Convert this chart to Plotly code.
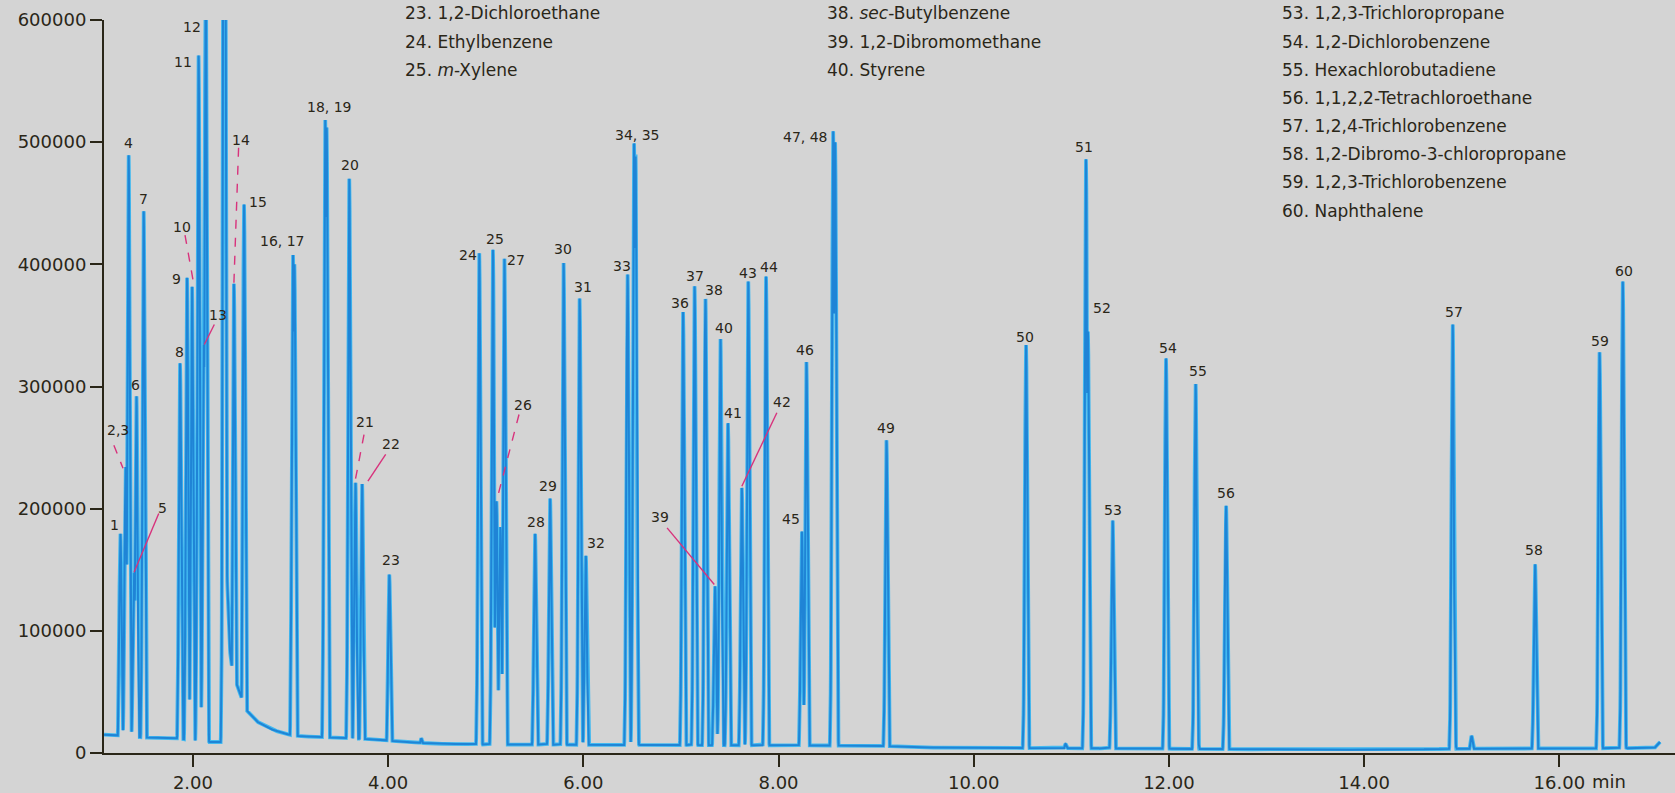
import numpy as np
import plotly.graph_objects as go

# ---- peak table: retention time (min) and apex intensity (counts) ----
peak_rt = [1.257, 1.311, 1.341, 1.397, 1.421, 1.495,
           1.868, 1.940, 1.991, 2.058, 2.112, 2.131, 2.322,
           2.420, 2.524, 3.025, 3.040, 3.355, 3.370, 3.602, 3.665, 3.733,
           4.012, 4.340, 4.934, 5.074, 5.110, 5.150, 5.191,
           5.505, 5.659, 5.798, 5.962, 6.025,
           6.453, 6.520, 6.535, 7.022, 7.140, 7.251, 7.349, 7.405, 7.482,
           7.624, 7.690, 7.872, 8.239, 8.286, 8.560, 8.580, 9.106,
           10.536, 10.940, 11.150, 11.170, 11.423, 11.970, 12.273, 12.585,
           14.907, 15.100, 15.751, 16.412, 16.650]
peak_height = [180000, 235000, 491000, 148000, 293000, 445000,
               319000, 389000, 383000, 571000, 334000, 650000, 1200000,
               384000, 449000, 409000, 400000, 520000, 512000, 470000, 222000, 221000,
               146000, 12000, 409000, 412000, 206000, 185000, 406000,
               180000, 209000, 401000, 372000, 162000,
               393000, 499000, 490000, 361000, 382000, 373000, 137000, 340000, 270000,
               217000, 386000, 390000, 182000, 320000, 509000, 500000, 256000,
               334000, 7500, 486000, 345000, 191000, 323000, 303000, 203000,
               352000, 14000, 155000, 328000, 386000]

# ---- baseline knots (min, counts), including the solvent tail ----
base_rt = [1.09, 1.22, 1.30, 1.50, 1.85, 2.10, 2.325, 2.345, 2.37, 2.40,
           2.45, 2.50, 2.55, 2.65, 2.80, 2.95, 3.10, 3.50, 3.90, 4.10,
           4.50, 5.00, 7.00, 9.00, 9.50, 12.00, 14.00, 15.00, 16.80,
           16.98, 17.03]
base_level = [15000, 14500, 14000, 12700, 12000, 9000, 9000, 160000, 90000, 70000,
              56000, 45000, 35000, 26000, 19500, 15500, 13700, 12500, 11000, 9500,
              7500, 7000, 6500, 6000, 4500, 3500, 2500, 3500, 4000,
              4500, 9000]

# ---- peak number labels ----
label_text = ["1", "2,3", "4", "5", "6", "7", "8", "9", "10", "11", "12", "13",
              "14", "15", "16, 17", "18, 19", "20", "21", "22", "23", "24", "25",
              "26", "27", "28", "29", "30", "31", "32", "33", "34, 35", "36", "37",
              "38", "39", "40", "41", "42", "43", "44", "45", "46", "47, 48", "49",
              "50", "51", "52", "53", "54", "55", "56", "57", "58", "59", "60"]
label_rt = [1.192, 1.232, 1.341, 1.689, 1.414, 1.495, 1.864, 1.835, 1.888, 1.898,
            1.989, 2.256, 2.493, 2.666, 2.913, 3.398, 3.610, 3.763, 4.030, 4.030,
            4.818, 5.091, 5.384, 5.310, 5.512, 5.640, 5.794, 5.996, 6.127, 6.398,
            6.555, 6.987, 7.140, 7.342, 6.786, 7.442, 7.536, 8.036, 7.690, 7.902,
            8.128, 8.276, 8.276, 9.106, 10.525, 11.134, 11.311, 11.423, 11.995,
            12.294, 12.587, 14.917, 15.743, 16.421, 16.665]
label_level = [186600, 264400, 499600, 200800, 301600, 453500, 328500, 388000,
               430800, 566000, 594500, 358500, 501800, 451300, 419400, 529000,
               481300, 271200, 253000, 158000, 407700, 420500, 284900, 403500,
               189300, 218500, 412300, 381700, 172200, 398700, 505900, 368600,
               390500, 379000, 193000, 347700, 278000, 287600, 393200, 398100,
               191300, 329900, 504500, 265800, 340800, 496300, 364000, 199000,
               331300, 313000, 212600, 361300, 166200, 337500, 394800]

# ---- leader lines for crowded labels ----
leader_from_rt = [1.19, 1.65, 1.919, 2.219, 2.468, 3.753, 3.975, 5.341, 6.858, 7.983]
leader_from_level = [252000, 196000, 424000, 350800, 495400, 260700, 244400, 277100, 184300, 278500]
leader_to_rt = [1.284, 1.397, 2.000, 2.117, 2.420, 3.665, 3.793, 5.110, 7.342, 7.624]
leader_to_level = [233000, 148000, 387600, 334400, 384900, 223900, 222500, 206100, 137900, 218400]
leader_dashed = [True, False, True, False, True, True, False, True, False, False]

# ---- compound key ----
legend_col1 = ["23. 1,2-Dichloroethane", "24. Ethylbenzene", "25. <i>m</i>-Xylene"]
legend_col2 = ["38. <i>sec</i>-Butylbenzene", "39. 1,2-Dibromomethane", "40. Styrene"]
legend_col3 = ["53. 1,2,3-Trichloropropane", "54. 1,2-Dichlorobenzene",
               "55. Hexachlorobutadiene", "56. 1,1,2,2-Tetrachloroethane",
               "57. 1,2,4-Trichlorobenzene", "58. 1,2-Dibromo-3-chloropropane",
               "59. 1,2,3-Trichlorobenzene", "60. Naphthalene"]

x_ticks = [2, 4, 6, 8, 10, 12, 14, 16]
x_tick_text = ["2.00", "4.00", "6.00", "8.00", "10.00", "12.00", "14.00", "16.00"]
y_ticks = [0, 100000, 200000, 300000, 400000, 500000, 600000]
y_tick_text = ["0", "100000", "200000", "300000", "400000", "500000", "600000"]

# ---- styling ----
BG = "#d4d4d4"
INK = "#2a2618"
BLUE = "#1f84d6"
CYAN = "#42b9f0"
LEADER = "#d8327c"
SIGMA = 0.012          # peak width (min)
FONT = "DejaVu Sans"

# render the detector trace from the peak table on a fine time grid
t = np.arange(1.09, 17.034, 0.002)
rt = np.array(peak_rt)[:, None]
hh = np.array(peak_height, dtype=float)[:, None]
peaks = (hh * np.exp(-0.5 * ((t[None, :] - rt) / SIGMA) ** 2)).max(axis=0)
signal = np.maximum(np.interp(t, base_rt, base_level), peaks)

fig = go.Figure()
fig.add_trace(go.Scatter(x=t, y=signal, mode="lines",
                         line=dict(color=CYAN, width=3.8), hoverinfo="skip"))
fig.add_trace(go.Scatter(x=t, y=signal, mode="lines",
                         line=dict(color=BLUE, width=2.0), hoverinfo="skip"))

for x0, y0, x1, y1, d in zip(leader_from_rt, leader_from_level,
                             leader_to_rt, leader_to_level, leader_dashed):
    fig.add_shape(type="line", x0=x0, y0=y0, x1=x1, y1=y1, xref="x", yref="y",
                  line=dict(color=LEADER, width=1.4, dash="dash" if d else "solid"))

for txt, x, y in zip(label_text, label_rt, label_level):
    fig.add_annotation(x=x, y=y, text=txt, showarrow=False, xanchor="center",
                       yanchor="middle", font=dict(family=FONT, size=14, color=INK))

# compound key, three columns of rows at the top of the plot
row_top = 1.0089
row_step = 0.0384
for col_x, rows in ((4.153, legend_col1), (8.476, legend_col2), (13.138, legend_col3)):
    for i, txt in enumerate(rows):
        fig.add_annotation(x=col_x, y=row_top - i * row_step, xref="x", yref="paper",
                           text=txt, showarrow=False, xanchor="left", yanchor="middle",
                           align="left", font=dict(family=FONT, size=17, color=INK))

# time unit after the last tick label
fig.add_annotation(x=16.315, y=-0.0384, xref="x", yref="paper", text="min",
                   showarrow=False, xanchor="left", yanchor="middle",
                   font=dict(family=FONT, size=18, color=INK))

fig.update_layout(
    width=1675, height=793,
    margin=dict(l=104, r=0, t=20, b=39.5),
    paper_bgcolor=BG, plot_bgcolor=BG,
    showlegend=False,
    font=dict(family=FONT, size=18, color=INK),
)
fig.update_xaxes(range=[1.089, 17.185], showgrid=False, zeroline=False,
                 automargin=False,
                 showline=True, linecolor=INK, linewidth=2,
                 ticks="outside", ticklen=12, tickwidth=2, tickcolor=INK,
                 tickvals=x_ticks, ticktext=x_tick_text,
                 tickfont=dict(family=FONT, size=18, color=INK))
fig.update_yaxes(range=[0, 600000], showgrid=False, zeroline=False,
                 automargin=False,
                 showline=True, linecolor=INK, linewidth=2,
                 ticks="outside", ticklen=12, tickwidth=2, tickcolor=INK,
                 tickvals=y_ticks, ticktext=y_tick_text,
                 tickfont=dict(family=FONT, size=18, color=INK))

fig.write_html("out.html")
